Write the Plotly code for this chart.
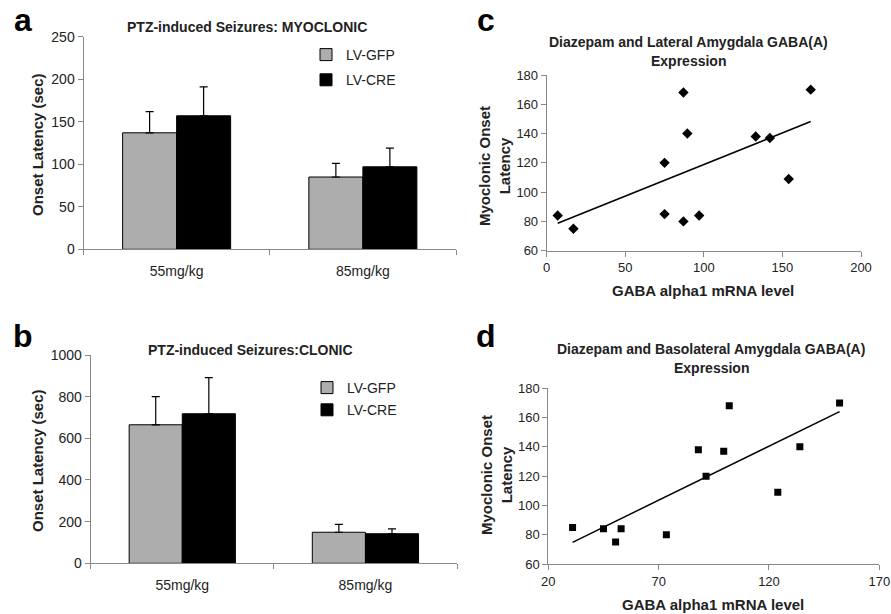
import plotly.graph_objects as go

W, H = 891, 614

# ---------------- data ----------------
doses = ["55mg/kg", "85mg/kg"]
groups = ["LV-GFP", "LV-CRE"]

myo_gfp = [137, 85]
myo_gfp_err = [25, 16]
myo_cre = [157, 97]
myo_cre_err = [34, 22]

clo_gfp = [665, 149]
clo_gfp_err = [135, 38]
clo_cre = [718, 142]
clo_cre_err = [173, 23]

lat_x = [7, 17, 75, 75, 87, 89.5, 87, 97, 133, 142, 154, 168]
lat_y = [84, 75, 120, 85, 168, 140, 80, 84, 138, 137, 109, 170]
lat_trend_x = [7, 168]
lat_trend_y = [78.7, 148.2]

bla_x = [31, 45, 50.5, 53, 73.5, 88, 91.5, 99.5, 102, 124, 134, 152]
bla_y = [85, 84, 75, 84, 80, 138, 120, 137, 168, 109, 140, 170]
bla_trend_x = [31, 152]
bla_trend_y = [74.8, 164.1]

# ---------------- helpers ----------------
def px(x):
    return x / W

def py(y):
    return 1 - y / H

FONT = "Arial, Liberation Sans, sans-serif"
GRAY = "#adadad"
AXC = "#888888"
TXT = "#222222"

fig = go.Figure()

# bar panels
fig.add_trace(go.Bar(x=doses, y=myo_gfp, name=groups[0], marker=dict(color=GRAY, line=dict(color="black", width=1)),
                     error_y=dict(type="data", array=myo_gfp_err, arrayminus=[0, 0], symmetric=False, color="black", thickness=1.2, width=4),
                     xaxis="x", yaxis="y", legend="legend", legendgroup="g1"))
fig.add_trace(go.Bar(x=doses, y=myo_cre, name=groups[1], marker=dict(color="black", line=dict(color="black", width=1)),
                     error_y=dict(type="data", array=myo_cre_err, arrayminus=[0, 0], symmetric=False, color="black", thickness=1.2, width=4),
                     xaxis="x", yaxis="y", legend="legend", legendgroup="g2"))
fig.add_trace(go.Bar(x=doses, y=clo_gfp, name=groups[0], marker=dict(color=GRAY, line=dict(color="black", width=1)),
                     error_y=dict(type="data", array=clo_gfp_err, arrayminus=[0, 0], symmetric=False, color="black", thickness=1.2, width=4),
                     xaxis="x2", yaxis="y2", legend="legend2", legendgroup="h1"))
fig.add_trace(go.Bar(x=doses, y=clo_cre, name=groups[1], marker=dict(color="black", line=dict(color="black", width=1)),
                     error_y=dict(type="data", array=clo_cre_err, arrayminus=[0, 0], symmetric=False, color="black", thickness=1.2, width=4),
                     xaxis="x2", yaxis="y2", legend="legend2", legendgroup="h2"))

# scatter panels
fig.add_trace(go.Scatter(x=lat_trend_x, y=lat_trend_y, mode="lines", line=dict(color="black", width=1.5),
                         xaxis="x3", yaxis="y3", showlegend=False))
fig.add_trace(go.Scatter(x=lat_x, y=lat_y, mode="markers", marker=dict(symbol="diamond", size=8, color="black"),
                         xaxis="x3", yaxis="y3", showlegend=False))
fig.add_trace(go.Scatter(x=bla_trend_x, y=bla_trend_y, mode="lines", line=dict(color="black", width=1.5),
                         xaxis="x4", yaxis="y4", showlegend=False))
fig.add_trace(go.Scatter(x=bla_x, y=bla_y, mode="markers", marker=dict(symbol="square", size=7, color="black"),
                         xaxis="x4", yaxis="y4", showlegend=False))

bar_x = dict(type="category", range=[-0.5, 1.5], showline=True, linecolor=AXC, linewidth=1,
             ticks="outside", ticklen=5, tickcolor=AXC, tickson="boundaries", automargin=False,
             ticklabelstandoff=9,
             tickfont=dict(family=FONT, size=14, color=TXT), showgrid=False, zeroline=False, fixedrange=True)
bar_y = dict(showline=True, linecolor=AXC, linewidth=1, ticks="outside", ticklen=5, tickcolor=AXC, automargin=False,
             tickfont=dict(family=FONT, size=14, color=TXT), showgrid=False, zeroline=False)
sc_ax = dict(showline=True, linecolor=AXC, linewidth=1, ticks="outside", ticklen=5, tickcolor=AXC, automargin=False,
             ticklabeloverflow="allow",
             tickfont=dict(family=FONT, size=13, color=TXT), showgrid=False, zeroline=False)

fig.update_layout(
    width=W, height=H, margin=dict(l=0, r=0, t=0, b=0, pad=0, autoexpand=False),
    paper_bgcolor="white", plot_bgcolor="white",
    barmode="group", bargap=0.42, bargroupgap=0,
    font=dict(family=FONT, color=TXT),
    xaxis=dict(bar_x, domain=[px(83.5), px(456)], anchor="y"),
    yaxis=dict(bar_y, domain=[py(249.3), py(36.7)], anchor="x", range=[0, 250], dtick=50),
    xaxis2=dict(bar_x, domain=[px(90.7), px(457)], anchor="y2"),
    yaxis2=dict(bar_y, domain=[py(563.3), py(355)], anchor="x2", range=[0, 1000], dtick=200),
    xaxis3=dict(sc_ax, domain=[px(546.7), px(861)], anchor="y3", range=[0, 200], dtick=50),
    yaxis3=dict(sc_ax, domain=[py(250.7), py(75)], anchor="x3", range=[60, 180], dtick=20),
    xaxis4=dict(sc_ax, domain=[px(548.3), px(879.3)], anchor="y4", range=[20, 170], tickvals=[20, 70, 120, 170]),
    yaxis4=dict(sc_ax, domain=[py(564), py(388.3)], anchor="x4", range=[60, 180], dtick=20),
    legend=dict(x=px(306), y=py(39), xanchor="left", yanchor="top", bgcolor="rgba(0,0,0,0)",
                font=dict(family=FONT, size=14, color=TXT), tracegroupgap=4, traceorder="grouped", itemwidth=30),
    legend2=dict(x=px(307), y=py(372), xanchor="left", yanchor="top", bgcolor="rgba(0,0,0,0)",
                 font=dict(family=FONT, size=14, color=TXT), tracegroupgap=1, traceorder="grouped", itemwidth=30),
    showlegend=True,
)

def ann(text, x, y, size, bold=True, angle=0, color=TXT):
    t = f"<b>{text}</b>" if bold else text
    fig.add_annotation(text=t, x=px(x), y=py(y), xref="paper", yref="paper", xanchor="center", yanchor="middle",
                       showarrow=False, textangle=angle, font=dict(family=FONT, size=size, color=color))

# panel letters
ann("a", 23, 19.5, 32, color="black")
ann("b", 23, 336, 32, color="black")
ann("c", 485.5, 19.5, 32, color="black")
ann("d", 485.5, 336, 32, color="black")

# titles
ann("PTZ-induced Seizures: MYOCLONIC", 247, 27, 14)
ann("PTZ-induced Seizures:CLONIC", 250, 350, 14)
ann("Diazepam and Lateral Amygdala GABA(A)", 688, 42, 14)
ann("Expression", 688, 61, 14)
ann("Diazepam and Basolateral Amygdala GABA(A)", 711, 349, 14)
ann("Expression", 711, 368, 14)

# axis titles
ann("Onset Latency (sec)", 37, 145, 15, angle=-90)
ann("Onset Latency (sec)", 37, 461, 15, angle=-90)
ann("Myoclonic Onset<br>Latency", 494, 166, 15, angle=-90)
ann("Myoclonic Onset<br>Latency", 496, 475, 15, angle=-90)
ann("GABA alpha1 mRNA level", 703, 290, 15)
ann("GABA alpha1 mRNA level", 713, 604, 15)

fig.write_html("out.html", config={"displayModeBar": False},
               post_script="document.body.style.margin='0';")
